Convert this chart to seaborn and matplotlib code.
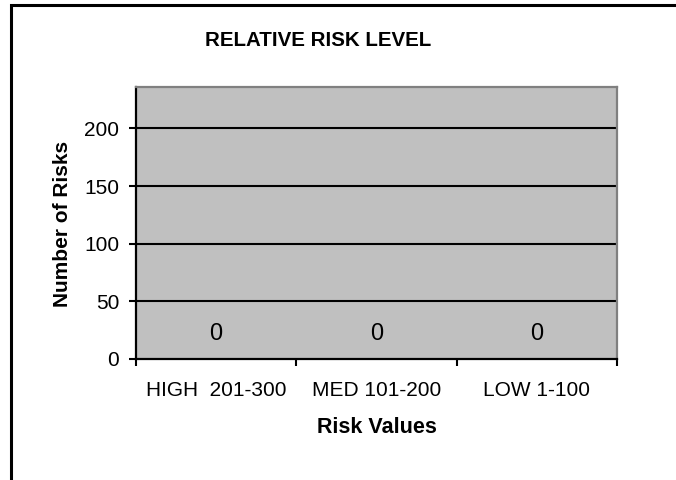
import matplotlib
matplotlib.use("Agg")
import matplotlib.pyplot as plt
import pandas as pd
import seaborn as sns
from matplotlib.patches import Rectangle
from matplotlib.ticker import FixedLocator

categories = ["HIGH  201-300", "MED 101-200", "LOW 1-100"]
risk_counts = [0, 0, 0]
y_ticks = [0, 50, 100, 150, 200]
y_max = 236

sns.set_style("white")
plt.rcParams["font.family"] = ["Liberation Sans", "DejaVu Sans"]
plt.rcParams["text.color"] = "black"
plt.rcParams["axes.labelcolor"] = "black"
plt.rcParams["xtick.color"] = "black"
plt.rcParams["ytick.color"] = "black"

df = pd.DataFrame({"category": categories, "count": risk_counts})

fig = plt.figure(figsize=(6.76, 4.8), dpi=100)
ax = fig.add_axes([136 / 676, 1 - 359 / 480, (617 - 136) / 676, (359 - 87) / 480])
ax.set_facecolor("#C0C0C0")

sns.barplot(data=df, x="category", y="count", color="#9999FF", ax=ax, width=0.6)

ax.set_ylim(0, y_max)
ax.set_xlim(-0.5, len(categories) - 0.5)
ax.set_yticks(y_ticks)
for t in y_ticks[1:]:
    ax.axhline(t, color="black", lw=1.5, zorder=1)

for i, v in enumerate(risk_counts):
    ax.annotate(str(v), xy=(i, v), xytext=(0, 18), textcoords="offset points",
                ha="center", va="center", fontsize=17)

# spines: black axes, gray plot-area frame
for side in ["left", "bottom"]:
    ax.spines[side].set_color("black")
    ax.spines[side].set_linewidth(1.6)
for side in ["top", "right"]:
    ax.spines[side].set_color("#808080")
    ax.spines[side].set_linewidth(1.6)
    ax.spines[side].set_visible(True)

ax.tick_params(axis="y", direction="out", length=5, width=1.5,
               labelsize=15, pad=7, left=True)
ax.tick_params(axis="x", which="major", length=0, labelsize=15, pad=16)
ax.xaxis.set_minor_locator(FixedLocator([-0.5, 0.5, 1.5, 2.5]))
ax.tick_params(axis="x", which="minor", direction="out", length=5, width=1.5,
               bottom=True)

ax.set_xlabel("Risk Values", fontsize=15.5, fontweight="bold", labelpad=12)
ax.set_ylabel("Number of Risks", fontsize=15, fontweight="bold", labelpad=12)
ax.yaxis.set_label_coords((72 - 136) / (617 - 136), (359 - 224) / (359 - 87))

fig.text(318 / 676, 1 - 40 / 480, "RELATIVE RISK LEVEL", ha="center", va="center",
         fontsize=14.8, fontweight="bold")

# chart-area border (cropped at right and bottom)
fig.patches.append(Rectangle((11 / 676, -0.1), 1.2, 1 - 5 / 480 + 0.1,
                             transform=fig.transFigure, fill=False,
                             edgecolor="black", lw=2.2, zorder=10))

fig.savefig("out.png", dpi=100)
